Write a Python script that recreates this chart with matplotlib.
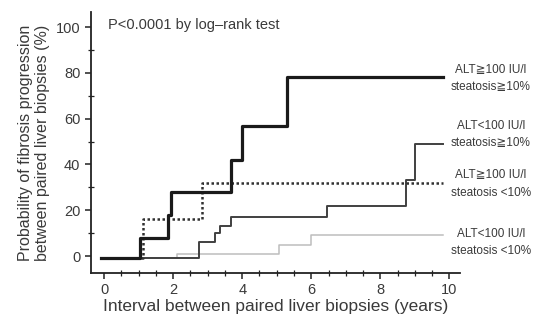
import matplotlib
matplotlib.use('agg')
import matplotlib.pyplot as plt
from matplotlib.ticker import MultipleLocator

plt.rcParams['font.family'] = ['Liberation Sans', 'DejaVu Sans']

# step curves: times of jumps and levels after each jump (%)
alt_hi_st_hi_t = [-0.1, 1.04, 1.85, 1.95, 3.67, 3.99, 5.29, 9.8]
alt_hi_st_hi_y = [-1, 8, 18, 28, 42, 57, 78, 78]

alt_hi_st_lo_t = [-0.1, 1.12, 2.83, 9.8]
alt_hi_st_lo_y = [-1, 16, 32, 32]

alt_lo_st_hi_t = [-0.1, 2.75, 3.2, 3.35, 3.67, 6.45, 8.73, 9.0, 9.8]
alt_lo_st_hi_y = [-1, 6, 10, 13, 17, 22, 33, 49, 49]

alt_lo_st_lo_t = [-0.1, 2.1, 5.06, 6.0, 9.8]
alt_lo_st_lo_y = [-1, 1, 5, 9, 9]

labels = ['ALT\u2267100 IU/l\nsteatosis\u226710%',
          'ALT<100 IU/l\nsteatosis\u226710%',
          'ALT\u2267100 IU/l\nsteatosis <10%',
          'ALT<100 IU/l\nsteatosis <10%']
label_y = [77.5, 53, 31.5, 6]

txt = '#3a3a3a'

fig = plt.figure(figsize=(5.41, 3.2), dpi=100)
ax = fig.add_axes([0.168, 0.147, 0.682, 0.815])

ax.step(alt_lo_st_lo_t, alt_lo_st_lo_y, where='post', color='#bdbdbd', lw=1.1)
ax.step(alt_lo_st_hi_t, alt_lo_st_hi_y, where='post', color='#404040', lw=1.4)
ax.step(alt_hi_st_lo_t, alt_hi_st_lo_y, where='post', color='#303030', lw=1.8, linestyle=(0, (1, 1)))
ax.step(alt_hi_st_hi_t, alt_hi_st_hi_y, where='post', color='#1a1a1a', lw=2.3)

for lab, yy in zip(labels, label_y):
    ax.text(11.2, yy, lab, ha='center', va='center', fontsize=8.5, color=txt,
            linespacing=1.6, clip_on=False)

ax.text(0.12, 101, 'P<0.0001 by log\u2013rank test', fontsize=10.5, color=txt,
        ha='left', va='center')

ax.set_xlim(-0.38, 10.3)
ax.set_ylim(-7.4, 106.5)
ax.xaxis.set_major_locator(MultipleLocator(2))
ax.xaxis.set_minor_locator(MultipleLocator(0.5))
ax.yaxis.set_major_locator(MultipleLocator(20))
ax.yaxis.set_minor_locator(MultipleLocator(10))
ax.set_yticks(range(0, 101, 20))

for s in ['top', 'right']:
    ax.spines[s].set_visible(False)
for s in ['left', 'bottom']:
    ax.spines[s].set_color('#222222')
    ax.spines[s].set_linewidth(1.3)

ax.tick_params(which='major', direction='out', length=4, width=1.1, colors='#222222',
               labelsize=10.5, labelcolor=txt)
ax.tick_params(which='minor', direction='inout', length=4, width=0.9, colors='#222222')

ax.set_xlabel('Interval between paired liver biopsies (years)', fontsize=12.5, color=txt, labelpad=1)
ax.set_ylabel('Probability of fibrosis progression\nbetween paired liver biopsies (%)',
              fontsize=11.5, color=txt, labelpad=4, linespacing=1.15)

fig.savefig('out.png', dpi=100, facecolor='white')
